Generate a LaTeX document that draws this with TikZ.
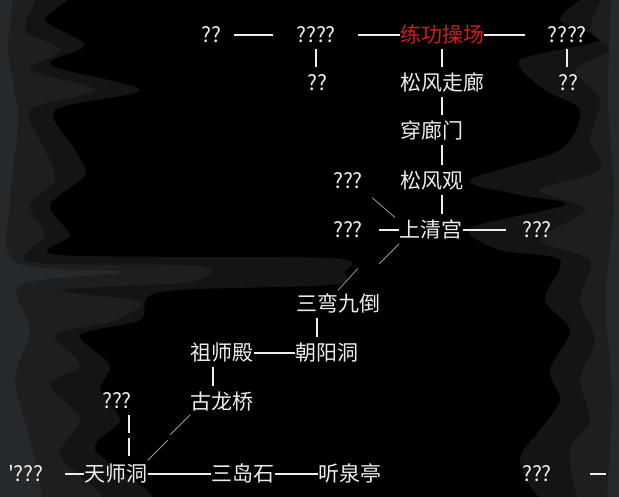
\documentclass[tikz,border=0pt]{standalone}
\usepackage{fontspec}
\setmainfont{Noto Sans CJK SC}[Ligatures=TeXOff]
\usetikzlibrary{calc}
\definecolor{txt}{HTML}{EDEDED}
\definecolor{redt}{HTML}{D21C1C}
\definecolor{sma}{HTML}{131416}
\definecolor{smb}{HTML}{1C1E20}
\definecolor{smc}{HTML}{26292B}
\definecolor{diagc}{HTML}{9A9A9A}
\begin{document}
\begin{tikzpicture}[x=1pt,y=-1pt,
  room/.style={text=txt, font=\fontsize{21}{24}\selectfont, inner sep=0pt, text height=16pt, text depth=1pt},
  hot/.style={room, text=redt},
  hline/.style={draw=txt, line width=1.4pt},
  vbar/.style={draw=txt, line width=2.8pt, shorten <=5pt, shorten >=7pt},
  diag/.style={draw=diagc, line width=0.8pt}]
\fill[black] (0,0) rectangle (619,497);
\useasboundingbox (0,0) rectangle (619,497);
% smoke
\begin{scope}
\clip (0,0) rectangle (619,497);
\fill[sma] plot[smooth cycle, tension=0.5] coordinates {(-5,-5) (70,-5) (45,20) (85,45) (50,65) (140,90) (55,110) (75,150) (85,175) (50,205) (70,235) (60,255) (330,258) (345,272) (330,285) (160,292) (140,320) (80,335) (110,365) (100,390) (120,420) (95,450) (150,500) (-5,500)};
\fill[smb] plot[smooth cycle, tension=0.5] coordinates {(-5,-5) (35,-5) (25,30) (60,50) (30,70) (95,90) (30,110) (45,150) (55,180) (30,205) (45,235) (30,262) (200,266) (190,282) (60,290) (140,302) (110,322) (55,335) (80,365) (50,385) (80,420) (60,455) (100,500) (-5,500)};
\fill[smc] plot[smooth cycle, tension=0.5] coordinates {(-5,-5) (12,-5) (8,50) (18,120) (10,200) (15,262) (120,272) (20,285) (30,330) (15,380) (30,440) (40,500) (-5,500)};
\fill[sma] plot[smooth cycle, tension=0.5] coordinates {(624,-5) (590,-5) (560,20) (600,40) (520,60) (545,90) (580,110) (560,150) (470,180) (520,195) (565,205) (470,228) (500,250) (560,260) (545,300) (570,330) (550,370) (560,400) (540,430) (520,460) (545,500) (624,500)};
\fill[smb] plot[smooth cycle, tension=0.5] coordinates {(624,-5) (605,-5) (590,30) (610,50) (575,70) (600,100) (590,140) (600,170) (540,190) (585,210) (540,240) (590,260) (580,300) (595,340) (580,380) (590,420) (570,450) (580,500) (624,500)};
\fill[smc] plot[smooth cycle, tension=0.5] coordinates {(624,-5) (612,-5) (608,100) (614,200) (606,300) (612,400) (608,500) (624,500)};
\end{scope}
% rooms
\node[room] (n1) at (211,35) {??};
\node[room] (n2) at (316,35) {????};
\node[hot]  (lg) at (442,35) {练功操场};
\node[room] (n3) at (567,35) {????};
\node[room] (n4) at (317,83) {??};
\node[room] (sf) at (442,83) {松风走廊};
\node[room] (n5) at (568,83) {??};
\node[room] (cl) at (432,131) {穿廊门};
\node[room] (n6) at (348,181) {???};
\node[room] (sg) at (432,181) {松风观};
\node[room] (n7) at (348,230) {???};
\node[room] (sq) at (431,230) {上清宫};
\node[room] (n8) at (537,230) {???};
\node[room] (sw) at (338,304) {三弯九倒};
\node[room] (zs) at (222,353) {祖师殿};
\node[room] (cy) at (327,353) {朝阳洞};
\node[room] (n9) at (117,401) {???};
\node[room] (gl) at (222,402) {古龙桥};
\node[room] (n10) at (26,474) {'???};
\node[room] (ts) at (116,474) {天师洞};
\node[room] (sd) at (243,474) {三岛石};
\node[room] (tq) at (350,474) {听泉亭};
\node[room] (n11) at (537,474) {???};
\coordinate (s1) at (379,230);
\coordinate (s2) at (65,474);
\coordinate (s3a) at (590,474);
\coordinate (s3b) at (606,474);
% horizontal connectors
\draw[hline, shorten <=13pt, shorten >=23pt] (n1.east) -- (n2.west);
\draw[hline, shorten <=22pt] (n2.east) -- (lg.west);
\draw[hline, shorten >=22pt] (lg.east) -- (n3.west);
\draw[hline] (s1) -- (sq.west);
\draw[hline, shorten >=16pt] (sq.east) -- (n8.west);
\draw[hline] (zs.east) -- (cy.west);
\draw[hline] (s2) -- (ts.west);
\draw[hline] (ts.east) -- (sd.west);
\draw[hline] (sd.east) -- (tq.west);
\draw[hline] (s3a) -- (s3b);
% vertical connectors
\draw[vbar] (n2.south) -- (n2.south |- n4.north);
\draw[vbar] (lg.south) -- (lg.south |- sf.north);
\draw[vbar] (n3.south) -- (n3.south |- n5.north);
\draw[vbar] (sf.south) -- (sf.south |- cl.north);
\draw[vbar] (sf.south |- cl.south) -- (sf.south |- sg.north);
\draw[vbar] (sf.south |- sg.south) -- (sf.south |- sq.north);
\draw[vbar] (sw.south -| n4) -- (cy.north -| n4);
\draw[vbar] ([xshift=-9pt]zs.south) -- ([xshift=-9pt]zs.south |- gl.north);
\draw[vbar, shorten <=5pt, shorten >=5pt, dash pattern=on 18pt off 5pt] ([xshift=12pt]n9.south) -- ([xshift=12pt]n9.south |- ts.north);
% diagonal connectors
\draw[diag, shorten <=12pt, shorten >=6pt] (n6.south east) -- (sq.north west);
\draw[diag] ([shift={(0,5)}]sq.south west) -- ([shift={(-20,25)}]sq.south west);
\draw[diag] ([shift={(20,-27)}]sw.north) -- ([shift={(0,-5)}]sw.north);
\draw[diag] ([shift={(0,4)}]gl.south west) -- ([shift={(-20,24)}]gl.south west);
\draw[diag] ([shift={(20,-25)}]ts.north east) -- ([shift={(0,-5)}]ts.north east);
\end{tikzpicture}
\end{document}
